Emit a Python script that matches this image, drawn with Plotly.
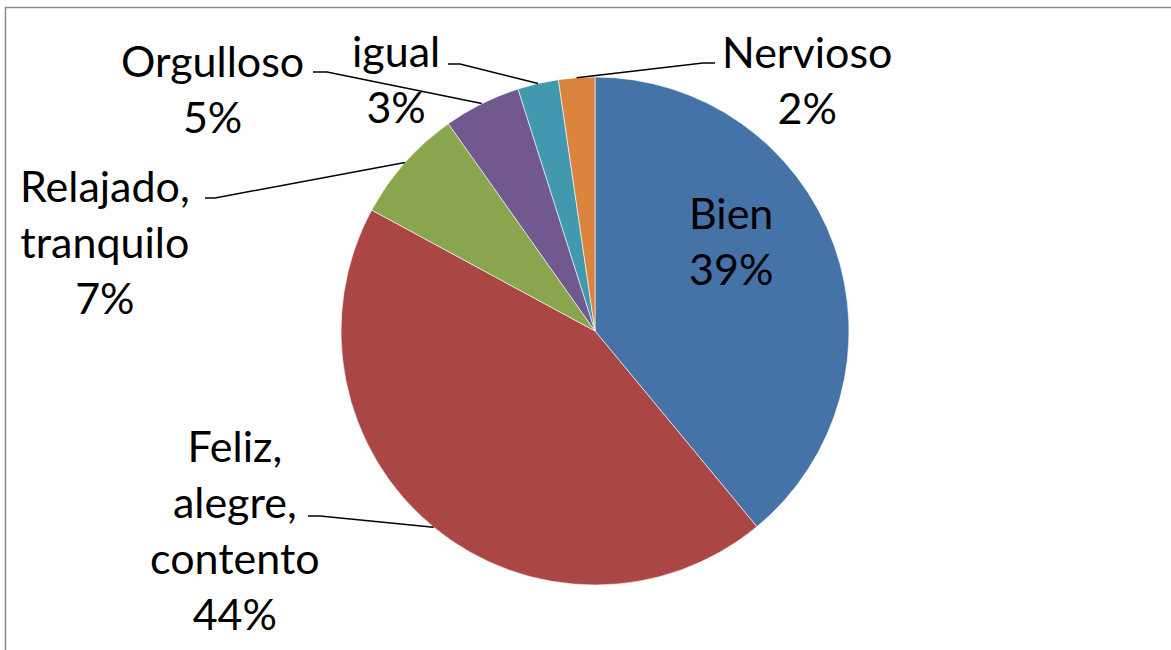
import math
import plotly.graph_objects as go

# ---- data ----
labels = ["Bien", "Feliz, alegre, contento", "Relajado, tranquilo", "Orgulloso", "igual", "Nervioso"]
label_lines = [["Bien"], ["Feliz,", "alegre,", "contento"], ["Relajado,", "tranquilo"],
               ["Orgulloso"], ["igual"], ["Nervioso"]]
values = [39.0, 43.9, 7.3, 4.9, 2.6, 2.3]
colors = ["#4572A7", "#AA4643", "#89A54E", "#71588F", "#4198AF", "#DB843D"]

# ---- layout ----
W, H = 1171, 650
CX, CY, R = 595, 331, 254
FONT = dict(family="Lato, Carlito, Calibri, sans-serif", size=43, color="black")

# label block centre (px) and leader-line text-side points (px): (stub_end, elbow)
label_pos = [(731, 241), (235, 529), (105, 242), (213, 88), (396, 78), (807, 79)]
leader = [None, ((308, 516), (320, 516)), ((205, 198), (215, 198)),
          ((313, 72), (327, 72)), ((448, 64), (460, 64)), ((715, 63), (703, 63))]

def px2paper(x, y):
    return x / W, 1 - y / H

fig = go.Figure(go.Pie(
    labels=labels, values=values, sort=False, direction="clockwise", rotation=0,
    marker=dict(colors=colors, line=dict(color="white", width=0.6)),
    textinfo="none", hoverinfo="label+percent", showlegend=False,
    domain=dict(x=[(CX - R) / W, (CX + R) / W], y=[1 - (CY + R) / H, 1 - (CY - R) / H]),
))

total = sum(values)
annotations = []
shapes = []
cum = 0.0
for i, v in enumerate(values):
    pct = v / total
    mid = (cum + v / 2) / total * 2 * math.pi
    cum += v
    txt = "<br>".join(label_lines[i] + [f"{round(pct * 100):d}%"])
    lx, ly = px2paper(*label_pos[i])
    annotations.append(dict(x=lx, y=ly, xref="paper", yref="paper", text=txt,
                            showarrow=False, xanchor="center", yanchor="middle",
                            align="center", font=FONT))
    if leader[i] is not None:
        rx = CX + R * math.sin(mid)
        ry = CY - R * math.cos(mid)
        (sx, sy), (ex, ey) = leader[i]
        pts = [px2paper(sx, sy), px2paper(ex, ey), px2paper(rx, ry)]
        path = "M {} {} L {} {} L {} {}".format(pts[0][0], pts[0][1], pts[1][0], pts[1][1],
                                                 pts[2][0], pts[2][1])
        shapes.append(dict(type="path", xref="paper", yref="paper", path=path,
                           line=dict(color="black", width=1.5)))

# chart-area border (partially outside the captured area)
bx0, by0 = px2paper(5.5, 7.5)
shapes.append(dict(type="rect", xref="paper", yref="paper", x0=bx0, y0=-0.05, x1=1.05, y1=by0,
                   line=dict(color="#8a8a8a", width=1.5), fillcolor="rgba(0,0,0,0)"))

fig.update_layout(width=W, height=H, margin=dict(l=0, r=0, t=0, b=0),
                  paper_bgcolor="white", plot_bgcolor="white",
                  annotations=annotations, shapes=shapes)

fig.write_html("out.html", config={"displayModeBar": False},
               post_script="document.body.style.margin='0px';")
